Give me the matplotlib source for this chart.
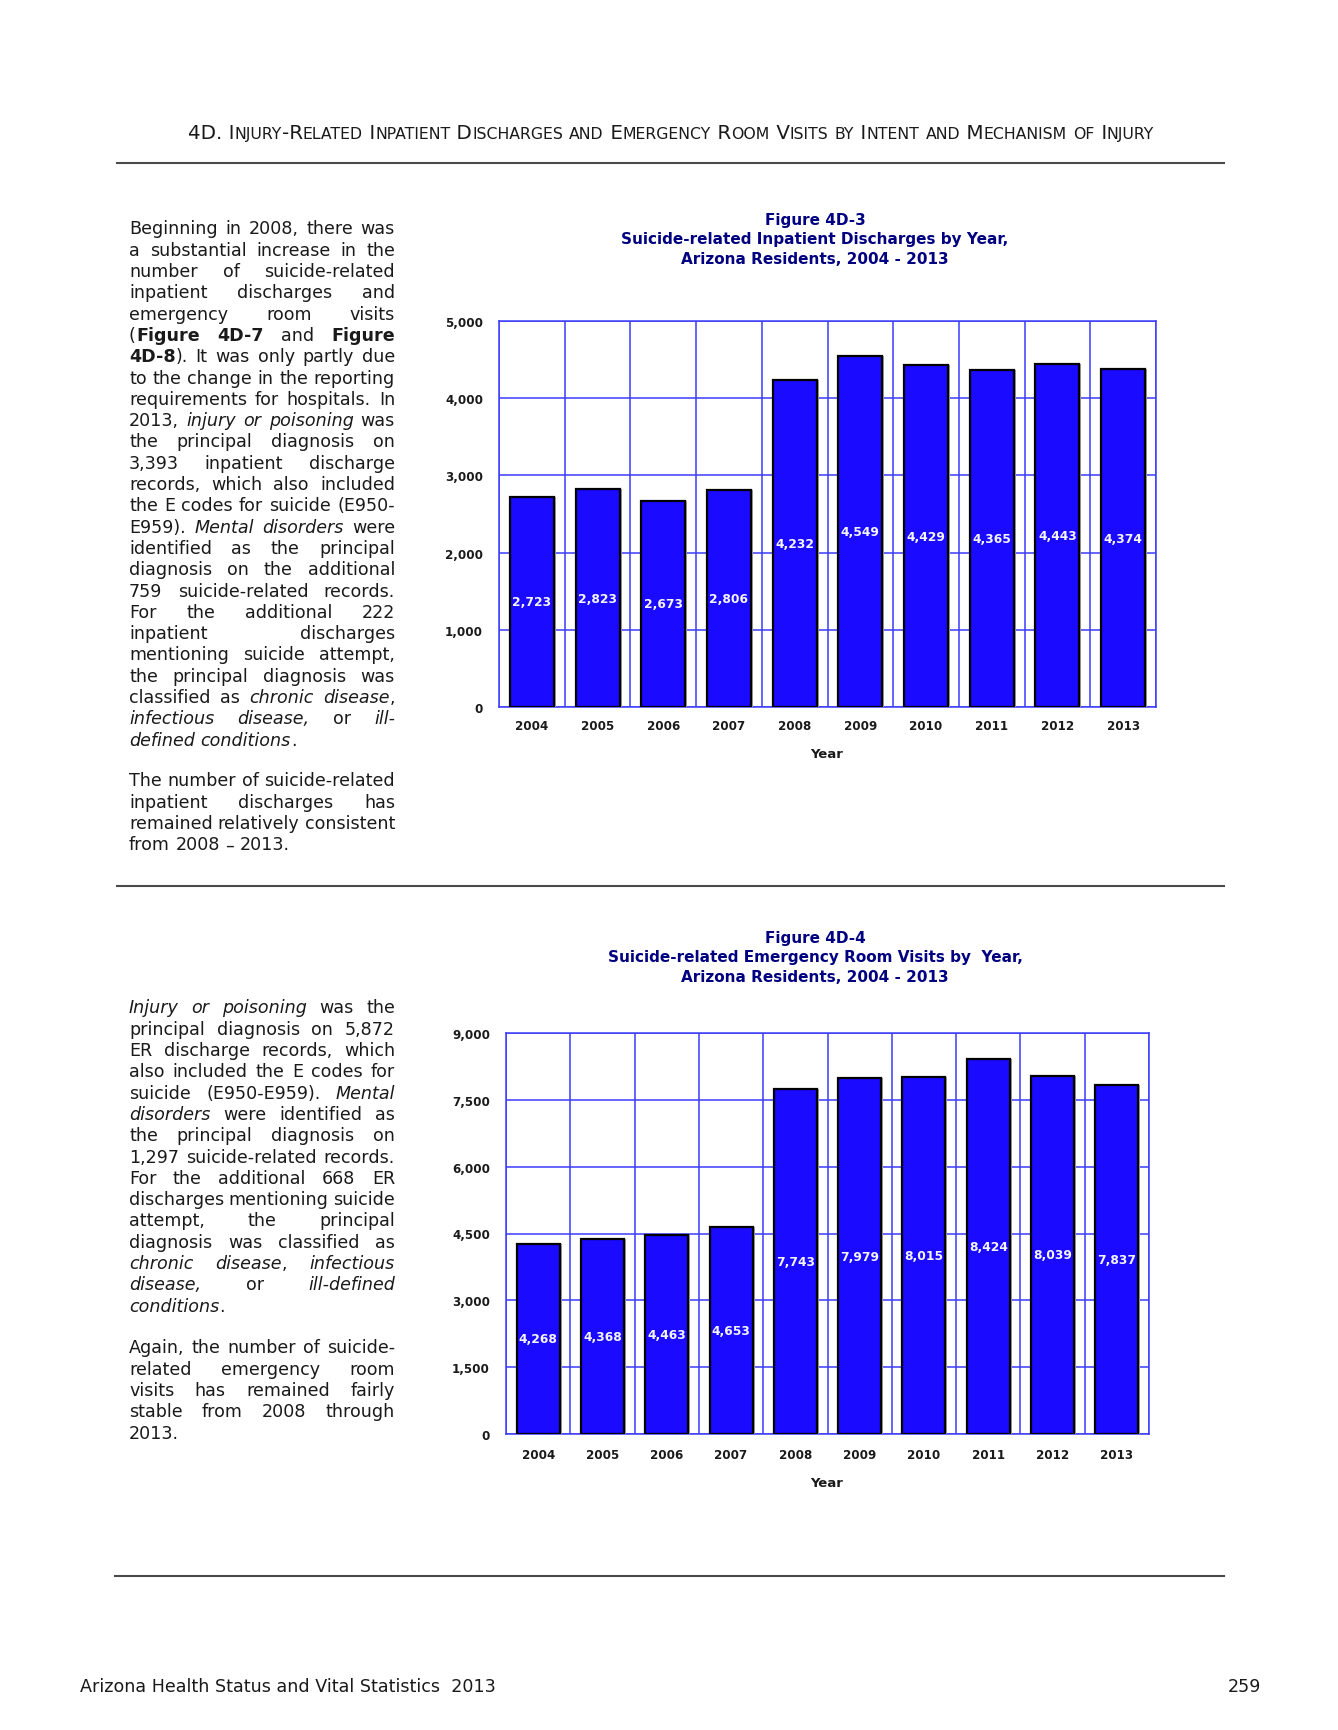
import matplotlib
matplotlib.use('Agg')
import matplotlib.pyplot as plt
from matplotlib.lines import Line2D
import numpy as np

W, H = 1338, 1731

# ---------------- data ----------------
years = ['2004', '2005', '2006', '2007', '2008', '2009', '2010', '2011', '2012', '2013']
inpatient = [2723, 2823, 2673, 2806, 4232, 4549, 4429, 4365, 4443, 4374]
er_visits = [4268, 4368, 4463, 4653, 7743, 7979, 8015, 8424, 8039, 7837]
inpatient_ticks = [0, 1000, 2000, 3000, 4000, 5000]
er_ticks = [0, 1500, 3000, 4500, 6000, 7500, 9000]

title1 = ['Figure 4D-3', 'Suicide-related Inpatient Discharges by Year,', 'Arizona Residents, 2004 - 2013']
title2 = ['Figure 4D-4', 'Suicide-related Emergency Room Visits by  Year,', 'Arizona Residents, 2004 - 2013']
header = '4D. Injury-Related Inpatient Discharges and Emergency Room Visits by Intent and Mechanism of Injury'
footer_left = 'Arizona Health Status and Vital Statistics  2013'
footer_right = '259'

# '^' toggles bold, '~' toggles italic; second item True = last line of paragraph
para1 = [
    ('Beginning in 2008, there was', False),
    ('a substantial increase in the', False),
    ('number of suicide-related', False),
    ('inpatient discharges and', False),
    ('emergency room visits', False),
    ('(^Figure 4D-7^ and ^Figure^', False),
    ('^4D-8^). It was only partly due', False),
    ('to the change in the reporting', False),
    ('requirements for hospitals. In', False),
    ('2013, ~injury or poisoning~ was', False),
    ('the principal diagnosis on', False),
    ('3,393 inpatient discharge', False),
    ('records, which also included', False),
    ('the E codes for suicide (E950-', False),
    ('E959). ~Mental disorders~ were', False),
    ('identified as the principal', False),
    ('diagnosis on the additional', False),
    ('759 suicide-related records.', False),
    ('For the additional 222', False),
    ('inpatient discharges', False),
    ('mentioning suicide attempt,', False),
    ('the principal diagnosis was', False),
    ('classified as ~chronic disease~,', False),
    ('~infectious disease,~ or ~ill-~', False),
    ('~defined conditions~.', True),
]
para1b = [
    ('The number of suicide-related', False),
    ('inpatient discharges has', False),
    ('remained relatively consistent', False),
    ('from 2008 \u2013 2013.', True),
]
para2 = [
    ('~Injury or poisoning~ was the', False),
    ('principal diagnosis on 5,872', False),
    ('ER discharge records, which', False),
    ('also included the E codes for', False),
    ('suicide (E950-E959). ~Mental~', False),
    ('~disorders~ were identified as', False),
    ('the principal diagnosis on', False),
    ('1,297 suicide-related records.', False),
    ('For the additional 668 ER', False),
    ('discharges mentioning suicide', False),
    ('attempt, the principal', False),
    ('diagnosis was classified as', False),
    ('~chronic disease~, ~infectious~', False),
    ('~disease,~ or ~ill-defined~', False),
    ('~conditions~.', True),
]
para2b = [
    ('Again, the number of suicide-', False),
    ('related emergency room', False),
    ('visits has remained fairly', False),
    ('stable from 2008 through', False),
    ('2013.', True),
]

# ---------------- setup ----------------
fig = plt.figure(figsize=(W / 100, H / 100), dpi=100)
fig.patch.set_facecolor('white')
renderer = fig.canvas.get_renderer()

FONT = 'DejaVu Sans'
TXT = '#1a1a1a'
BODY_SIZE = 12.6
LH = 21.3


def fx(px):
    return px / W


def fy(py):
    return 1 - py / H


def measure(t):
    return t.get_window_extent(renderer).width


def parse(line):
    words, cur, seg = [], [], ''
    bold = ital = False
    for ch in line:
        if ch in '^~':
            if seg:
                cur.append((seg, bold, ital))
                seg = ''
            if ch == '^':
                bold = not bold
            else:
                ital = not ital
        elif ch == ' ':
            if seg:
                cur.append((seg, bold, ital))
                seg = ''
            if cur:
                words.append(cur)
                cur = []
        else:
            seg += ch
    if seg:
        cur.append((seg, bold, ital))
    if cur:
        words.append(cur)
    return words


t_a = fig.text(0, 0, 'x x', fontsize=BODY_SIZE, family=FONT)
t_b = fig.text(0, 0, 'xx', fontsize=BODY_SIZE, family=FONT)
SPACE = measure(t_a) - measure(t_b)
t_a.remove()
t_b.remove()


def draw_par(lines, x0, x1, ycenter):
    for i, (line, last) in enumerate(lines):
        y = ycenter + i * LH + 5.5  # baseline
        words = parse(line)
        arts, widths = [], []
        for w in words:
            ws, tot = [], 0
            for (s, b, it) in w:
                t = fig.text(0, 0, s, fontsize=BODY_SIZE, family=FONT, color=TXT,
                             fontweight='bold' if b else 'normal',
                             fontstyle='italic' if it else 'normal',
                             ha='left', va='baseline')
                wd = measure(t)
                ws.append((t, wd))
                tot += wd
            arts.append(ws)
            widths.append(tot)
        if last or len(words) == 1:
            gap = SPACE
        else:
            gap = max((x1 - x0 - sum(widths)) / (len(words) - 1), SPACE * 0.6)
        x = x0
        for ws, tot in zip(arts, widths):
            xx = x
            for t, wd in ws:
                t.set_position((fx(xx), fy(y)))
                xx += wd
            x += tot + gap


def draw_smallcaps(s, xc, yc, big, small):
    runs = []
    for ch in s:
        sm = ch.islower()
        if runs and runs[-1][1] == sm:
            runs[-1][0] += ch.upper()
        else:
            runs.append([ch.upper(), sm])
    arts, tot = [], 0
    for txt, sm in runs:
        t = fig.text(0, 0, txt, fontsize=small if sm else big, family=FONT, color=TXT,
                     ha='left', va='baseline')
        wd = measure(t)
        arts.append((t, wd))
        tot += wd
    x = xc - tot / 2
    for t, wd in arts:
        t.set_position((fx(x), fy(yc)))
        x += wd


# ---------------- page furniture ----------------
draw_smallcaps(header, 671, 139, 14.3, 11.3)
for (xa, xb, yy) in [(117, 1224, 164), (117, 1224, 887), (115, 1224, 1577)]:
    fig.add_artist(Line2D([fx(xa), fx(xb)], [fy(yy), fy(yy)], color='#4a4a4a', lw=1.5))

fig.text(fx(80), fy(1687), footer_left, fontsize=BODY_SIZE, family=FONT, color=TXT,
         ha='left', va='center')
fig.text(fx(1261), fy(1687), footer_right, fontsize=BODY_SIZE, family=FONT, color=TXT,
         ha='right', va='center')

draw_par(para1, 129, 395, 229)
draw_par(para1b, 129, 395, 781)
draw_par(para2, 129, 395, 1008)
draw_par(para2b, 129, 395, 1348)

# ---------------- charts ----------------
BAR = '#1A0AFF'
GRID = '#3C3CFF'
NAVY = '#000080'


def bar_chart(px_left, px_right, px_top, px_bottom, values, ticks, title, title_y, year_y, xpad):
    ax = fig.add_axes([fx(px_left), fy(px_bottom), (px_right - px_left) / W, (px_bottom - px_top) / H])
    x = np.arange(len(years))
    shadow = 2.0 / (px_right - px_left) * len(years)
    ax.bar(x + shadow, values, width=0.67, color='#a0a0a0', linewidth=0, zorder=2.9)
    ax.bar(x, values, width=0.67, color=BAR, edgecolor='black', linewidth=1.6, zorder=3)
    ax.set_xlim(-0.5, len(years) - 0.5)
    ax.set_ylim(ticks[0], ticks[-1])
    ax.set_yticks(ticks)
    ax.set_yticklabels([f'{t:,}' for t in ticks])
    ax.set_xticks(x)
    ax.set_xticklabels(years)
    ax.set_xticks(np.arange(-0.5, len(years)), minor=True)
    ax.set_axisbelow(True)
    ax.grid(True, which='major', axis='y', color=GRID, linewidth=1.1)
    ax.grid(True, which='minor', axis='x', color=GRID, linewidth=1.1)
    ax.tick_params(which='both', length=0)
    ax.tick_params(axis='y', pad=11.5)
    ax.tick_params(axis='x', pad=xpad)
    for lab in ax.get_xticklabels() + ax.get_yticklabels():
        lab.set_fontweight('bold')
        lab.set_fontsize(8.6)
        lab.set_family(FONT)
        lab.set_color(TXT)
    for sp in ax.spines.values():
        sp.set_color(GRID)
        sp.set_linewidth(1.1)
    for xi, v in zip(x, values):
        ax.text(xi, v / 2, f'{v:,}', ha='center', va='center', color='#f4f4ff',
                fontweight='bold', fontsize=8.8, family=FONT, zorder=4)
    for k, line in enumerate(title):
        fig.text(fx(815), fy(title_y + 19 * k), line, ha='center', va='center',
                 fontsize=11.0, fontweight='bold', color=NAVY, family=FONT)
    fig.text(fx(827), fy(year_y), 'Year', ha='center', va='center', fontsize=9.5,
             fontweight='bold', color=TXT, family=FONT)
    return ax


bar_chart(499, 1156, 322, 708, inpatient, inpatient_ticks, title1, 221, 755, 8.5)
bar_chart(506, 1149, 1034, 1435, er_visits, er_ticks, title2, 939, 1484, 10)

fig.savefig('out.png', dpi=100, facecolor='white')
